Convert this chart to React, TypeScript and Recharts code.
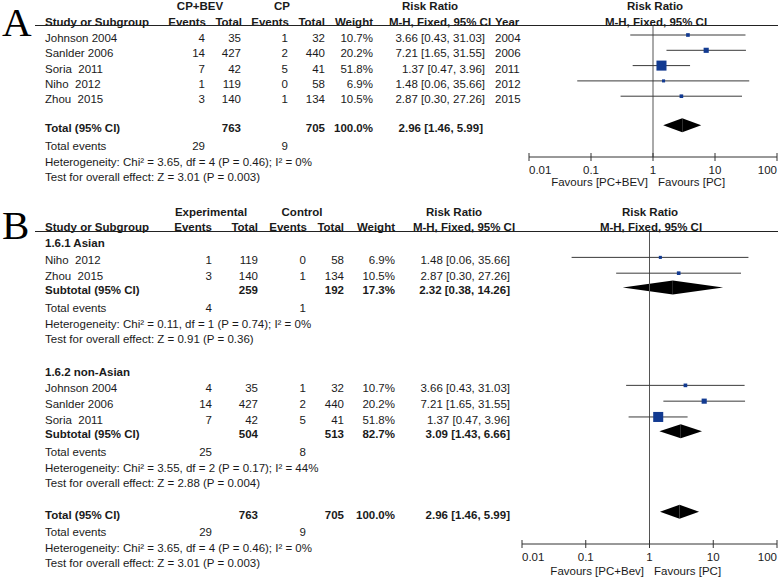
import React from "react";
import {
  ComposedChart,
  XAxis,
  YAxis,
  Scatter,
  ReferenceLine,
  ReferenceArea,
} from "recharts";

// ---- data ----
const studyNames = ["Johnson 2004", "Sanlder 2006", "Soria  2011", "Niho  2012", "Zhou  2015"];
const studyYears = [2004, 2006, 2011, 2012, 2015];
const expEvents = [4, 14, 7, 1, 3];
const expTotals = [35, 427, 42, 119, 140];
const ctlEvents = [1, 2, 5, 0, 1];
const ctlTotals = [32, 440, 41, 58, 134];
const weights = [10.7, 20.2, 51.8, 6.9, 10.5];
const riskRatios = [3.66, 7.21, 1.37, 1.48, 2.87];
const ciLow = [0.43, 1.65, 0.47, 0.06, 0.3];
const ciHigh = [31.03, 31.55, 3.96, 35.66, 27.26];

// subgroups (B) + overall
const asianIdx = [3, 4];
const nonAsianIdx = [0, 1, 2];
const pooledLabels = ["1.6.1 Asian", "1.6.2 non-Asian", "Total"];
const pooledExpTotal = [259, 504, 763];
const pooledCtlTotal = [192, 513, 705];
const pooledWeight = [17.3, 82.7, 100.0];
const pooledRR = [2.32, 3.09, 2.96];
const pooledLow = [0.38, 1.43, 1.46];
const pooledHigh = [14.26, 6.66, 5.99];
const pooledExpEvents = [4, 25, 29];
const pooledCtlEvents = [1, 8, 9];
const hetChi = [0.11, 3.55, 3.65];
const hetDf = [1, 2, 4];
const hetP = ["0.74", "0.17", "0.46"];
const hetI2 = [0, 44, 0];
const zValue = ["0.91", "2.88", "3.01"];
const zP = ["0.36", "0.004", "0.003"];

const axisTicks = [0.01, 0.1, 1, 10, 100];
const tickLabels = ["0.01", "0.1", "1", "10", "100"];

// ---- helpers ----
const FONT = '"Liberation Sans", Arial, sans-serif';
const INK = "#1a1a1a";

const rrText = (rr: number, lo: number, hi: number) =>
  `${rr.toFixed(2)} [${lo.toFixed(2)}, ${hi.toFixed(2)}]`;
const hetText = (g: number) =>
  `Heterogeneity: Chi² = ${hetChi[g].toFixed(2)}, df = ${hetDf[g]} (P = ${hetP[g]}); I² = ${hetI2[g]}%`;
const testText = (g: number) => `Test for overall effect: Z = ${zValue[g]} (P = ${zP[g]})`;

function Txt({ x, y, a = "l", b = false, children }: any) {
  const tx = a === "r" ? "-100%" : a === "c" ? "-50%" : "0";
  return (
    <div
      style={{
        position: "absolute",
        left: x,
        top: y - 7,
        transform: `translateX(${tx})`,
        whiteSpace: "pre",
        fontFamily: FONT,
        fontSize: 11.5,
        lineHeight: "14px",
        fontWeight: b ? 700 : 400,
        color: INK,
      }}
    >
      {children}
    </div>
  );
}

function HLine({ x, y, w }: any) {
  return <div style={{ position: "absolute", left: x, top: y, width: w, height: 1, background: "#222" }} />;
}

function Letter({ x, y, children }: any) {
  return (
    <div
      style={{
        position: "absolute",
        left: x,
        top: y,
        fontFamily: '"Liberation Serif", "Times New Roman", serif',
        fontSize: 41,
        lineHeight: "41px",
        color: "#000",
      }}
    >
      {children}
    </div>
  );
}

function LogTick(props: any) {
  const { x, y, payload } = props;
  const v = payload.value;
  const i = axisTicks.indexOf(v);
  const anchor = i === 0 ? "start" : i === axisTicks.length - 1 ? "end" : "middle";
  return (
    <g>
      <line x1={x} x2={x} y1={y - 4} y2={y + 4} stroke="#333" />
      <text x={x} y={y + 17} textAnchor={anchor} fontFamily={FONT} fontSize={11.5} fill={INK}>
        {tickLabels[i]}
      </text>
    </g>
  );
}

function Square(props: any) {
  const { cx, cy, payload } = props;
  const s = 2 + 0.155 * payload.w;
  return <rect x={cx - s / 2} y={cy - s / 2} width={s} height={s} fill="#123a91" />;
}

const leftHalf = (p: any) => {
  const { x, y, width, height } = p;
  return <polygon points={`${x},${y + height / 2} ${x + width},${y} ${x + width},${y + height}`} fill="#000" />;
};
const rightHalf = (p: any) => {
  const { x, y, width, height } = p;
  return <polygon points={`${x},${y} ${x + width},${y + height / 2} ${x},${y + height}`} fill="#000" />;
};

type Panel = {
  row0: number;
  pitch: number;
  plotTop: number;
  plotBottom: number;
  plotLeft: number;
  plotRight: number;
};

function Forest({ p, studies, diamonds }: { p: Panel; studies: any[]; diamonds: any[] }) {
  const mt = 6, ml = 20, mr = 10, axisH = 30;
  const plotW = p.plotRight - p.plotLeft;
  const plotH = p.plotBottom - p.plotTop;
  const domain = [(p.plotTop - p.row0) / p.pitch, (p.plotBottom - p.row0) / p.pitch];
  const half = 7 / p.pitch;
  return (
    <div style={{ position: "absolute", left: p.plotLeft - ml, top: p.plotTop - mt }}>
      <ComposedChart
        width={ml + plotW + mr}
        height={mt + plotH + axisH}
        margin={{ top: mt, left: ml, right: mr, bottom: 0 }}
      >
        <XAxis
          type="number"
          dataKey="x"
          scale="log"
          domain={[0.01, 100]}
          ticks={axisTicks}
          interval={0}
          allowDataOverflow
          tickSize={0}
          tickMargin={0}
          tickLine={false}
          tick={<LogTick />}
          height={axisH}
          stroke="#333"
        />
        <YAxis type="number" dataKey="y" domain={domain} reversed hide allowDataOverflow />
        <ReferenceLine x={1} stroke="#555" ifOverflow="visible" />
        {studies.map((s, i) => (
          <ReferenceLine
            key={"ci" + i}
            segment={[{ x: s.lo, y: s.y }, { x: s.hi, y: s.y }]}
            stroke="#3a3a3a"
            ifOverflow="visible"
          />
        ))}
        {diamonds.map((d, i) => (
          <ReferenceArea
            key={"dl" + i}
            x1={d.lo}
            x2={d.x}
            y1={d.y - half}
            y2={d.y + half}
            shape={leftHalf}
            ifOverflow="visible"
          />
        ))}
        {diamonds.map((d, i) => (
          <ReferenceArea
            key={"dr" + i}
            x1={d.x}
            x2={d.hi}
            y1={d.y - half}
            y2={d.y + half}
            shape={rightHalf}
            ifOverflow="visible"
          />
        ))}
        <Scatter data={studies} isAnimationActive={false} shape={<Square />} />
      </ComposedChart>
    </div>
  );
}

// ---- layout ----
const PA: Panel = { row0: 35, pitch: 15.3, plotTop: 26, plotBottom: 157, plotLeft: 529, plotRight: 777 };
const PB: Panel = { row0: 240, pitch: 15.8, plotTop: 232, plotBottom: 544, plotLeft: 522, plotRight: 777 };
const TEXT_SHIFT = 3;
const ty = (p: Panel, slot: number) => p.row0 + slot * p.pitch + TEXT_SHIFT;

const colA = { ev1: 205, tot1: 241, ev2: 288, tot2: 325, w: 373, rr: 485, year: 495 };
const colB = { ev1: 212, tot1: 258, ev2: 306, tot2: 344, w: 395, rr: 510 };

const slotsA = { studies: [0, 1, 2, 3, 4], total: 5.9, te: 7.06, het: 8.1, test: 9.1 };
const groupsB = [
  { idx: asianIdx, head: 0, studies: [1.1, 2.1], sub: 3.0, te: 4.1, het: 5.1, test: 6.1 },
  { idx: nonAsianIdx, head: 8.15, studies: [9.2, 10.2, 11.2], sub: 12.1, te: 13.2, het: 14.25, test: 15.2 },
];
const totalB = { sub: 17.2, te: 18.3, het: 19.3, test: 20.25 };

function PanelA() {
  const studies = studyNames.map((_, i) => ({ x: riskRatios[i], lo: ciLow[i], hi: ciHigh[i], w: weights[i], y: slotsA.studies[i] }));
  const diamonds = [{ x: pooledRR[2], lo: pooledLow[2], hi: pooledHigh[2], y: slotsA.total }];
  const c = colA;
  return (
    <>
      <Letter x={2} y={2}>A</Letter>
      <Txt x={200} y={6} a="c" b>CP+BEV</Txt>
      <Txt x={282} y={6} a="c" b>CP</Txt>
      <Txt x={430} y={6} a="c" b>Risk Ratio</Txt>
      <Txt x={655} y={6} a="c" b>Risk Ratio</Txt>
      <Txt x={45} y={21.5} b>Study or Subgroup</Txt>
      <Txt x={206} y={21.5} a="r" b>Events</Txt>
      <Txt x={242} y={21.5} a="r" b>Total</Txt>
      <Txt x={289} y={21.5} a="r" b>Events</Txt>
      <Txt x={325} y={21.5} a="r" b>Total</Txt>
      <Txt x={373} y={21.5} a="r" b>Weight</Txt>
      <Txt x={440} y={21.5} a="c" b>M-H, Fixed, 95% CI</Txt>
      <Txt x={495} y={21.5} b>Year</Txt>
      <Txt x={656} y={21.5} a="c" b>M-H, Fixed, 95% CI</Txt>
      <HLine x={35} y={25} w={743} />
      {studyNames.map((n, i) => {
        const y = ty(PA, slotsA.studies[i]);
        return (
          <React.Fragment key={n}>
            <Txt x={45} y={y}>{n}</Txt>
            <Txt x={c.ev1} y={y} a="r">{expEvents[i]}</Txt>
            <Txt x={c.tot1} y={y} a="r">{expTotals[i]}</Txt>
            <Txt x={c.ev2} y={y} a="r">{ctlEvents[i]}</Txt>
            <Txt x={c.tot2} y={y} a="r">{ctlTotals[i]}</Txt>
            <Txt x={c.w} y={y} a="r">{weights[i].toFixed(1)}%</Txt>
            <Txt x={c.rr} y={y} a="r">{rrText(riskRatios[i], ciLow[i], ciHigh[i])}</Txt>
            <Txt x={c.year} y={y}>{studyYears[i]}</Txt>
          </React.Fragment>
        );
      })}
      <Txt x={45} y={ty(PA, slotsA.total)} b>Total (95% CI)</Txt>
      <Txt x={c.tot1} y={ty(PA, slotsA.total)} a="r" b>{pooledExpTotal[2]}</Txt>
      <Txt x={c.tot2} y={ty(PA, slotsA.total)} a="r" b>{pooledCtlTotal[2]}</Txt>
      <Txt x={c.w} y={ty(PA, slotsA.total)} a="r" b>{pooledWeight[2].toFixed(1)}%</Txt>
      <Txt x={c.rr - 2} y={ty(PA, slotsA.total)} a="r" b>{rrText(pooledRR[2], pooledLow[2], pooledHigh[2])}</Txt>
      <Txt x={45} y={ty(PA, slotsA.te)}>Total events</Txt>
      <Txt x={c.ev1} y={ty(PA, slotsA.te)} a="r">{pooledExpEvents[2]}</Txt>
      <Txt x={c.ev2} y={ty(PA, slotsA.te)} a="r">{pooledCtlEvents[2]}</Txt>
      <Txt x={45} y={ty(PA, slotsA.het)}>{hetText(2)}</Txt>
      <Txt x={45} y={ty(PA, slotsA.test)}>{testText(2)}</Txt>
      <Forest p={PA} studies={studies} diamonds={diamonds} />
      <Txt x={648} y={182} a="r">Favours [PC+BEV]</Txt>
      <Txt x={658} y={182}>Favours [PC]</Txt>
    </>
  );
}

function PanelB() {
  const c = colB;
  const studies: any[] = [];
  const diamonds: any[] = [];
  groupsB.forEach((g, gi) => {
    g.idx.forEach((si, k) =>
      studies.push({ x: riskRatios[si], lo: ciLow[si], hi: ciHigh[si], w: weights[si], y: g.studies[k] })
    );
    diamonds.push({ x: pooledRR[gi], lo: pooledLow[gi], hi: pooledHigh[gi], y: g.sub });
  });
  diamonds.push({ x: pooledRR[2], lo: pooledLow[2], hi: pooledHigh[2], y: totalB.sub });

  const pooledRows = (gi: number, s: { sub: number; te: number; het: number; test: number }, label: string) => (
    <>
      <Txt x={45} y={ty(PB, s.sub)} b>{label}</Txt>
      <Txt x={c.tot1} y={ty(PB, s.sub)} a="r" b>{pooledExpTotal[gi]}</Txt>
      <Txt x={c.tot2} y={ty(PB, s.sub)} a="r" b>{pooledCtlTotal[gi]}</Txt>
      <Txt x={c.w} y={ty(PB, s.sub)} a="r" b>{pooledWeight[gi].toFixed(1)}%</Txt>
      <Txt x={c.rr} y={ty(PB, s.sub)} a="r" b>{rrText(pooledRR[gi], pooledLow[gi], pooledHigh[gi])}</Txt>
      <Txt x={45} y={ty(PB, s.te)}>Total events</Txt>
      <Txt x={c.ev1} y={ty(PB, s.te)} a="r">{pooledExpEvents[gi]}</Txt>
      <Txt x={c.ev2} y={ty(PB, s.te)} a="r">{pooledCtlEvents[gi]}</Txt>
      <Txt x={45} y={ty(PB, s.het)}>{hetText(gi)}</Txt>
      <Txt x={45} y={ty(PB, s.test)}>{testText(gi)}</Txt>
    </>
  );

  return (
    <>
      <Letter x={2} y={205}>B</Letter>
      <Txt x={211} y={212} a="c" b>Experimental</Txt>
      <Txt x={302} y={212} a="c" b>Control</Txt>
      <Txt x={454} y={212} a="c" b>Risk Ratio</Txt>
      <Txt x={650} y={212} a="c" b>Risk Ratio</Txt>
      <Txt x={45} y={227} b>Study or Subgroup</Txt>
      <Txt x={212} y={227} a="r" b>Events</Txt>
      <Txt x={258} y={227} a="r" b>Total</Txt>
      <Txt x={307} y={227} a="r" b>Events</Txt>
      <Txt x={344} y={227} a="r" b>Total</Txt>
      <Txt x={395} y={227} a="r" b>Weight</Txt>
      <Txt x={464} y={227} a="c" b>M-H, Fixed, 95% CI</Txt>
      <Txt x={651} y={227} a="c" b>M-H, Fixed, 95% CI</Txt>
      <HLine x={35} y={231} w={743} />
      {groupsB.map((g, gi) => (
        <React.Fragment key={gi}>
          <Txt x={45} y={ty(PB, g.head)} b>{pooledLabels[gi]}</Txt>
          {g.idx.map((si, k) => {
            const y = ty(PB, g.studies[k]);
            return (
              <React.Fragment key={si}>
                <Txt x={45} y={y}>{studyNames[si]}</Txt>
                <Txt x={c.ev1} y={y} a="r">{expEvents[si]}</Txt>
                <Txt x={c.tot1} y={y} a="r">{expTotals[si]}</Txt>
                <Txt x={c.ev2} y={y} a="r">{ctlEvents[si]}</Txt>
                <Txt x={c.tot2} y={y} a="r">{ctlTotals[si]}</Txt>
                <Txt x={c.w} y={y} a="r">{weights[si].toFixed(1)}%</Txt>
                <Txt x={c.rr} y={y} a="r">{rrText(riskRatios[si], ciLow[si], ciHigh[si])}</Txt>
              </React.Fragment>
            );
          })}
          {pooledRows(gi, g, "Subtotal (95% CI)")}
        </React.Fragment>
      ))}
      {pooledRows(2, totalB, "Total (95% CI)")}
      <Forest p={PB} studies={studies} diamonds={diamonds} />
      <Txt x={644} y={571} a="r">Favours [PC+Bev]</Txt>
      <Txt x={654} y={571}>Favours [PC]</Txt>
    </>
  );
}

export default function App() {
  return (
    <div
      style={{
        position: "absolute",
        left: 0,
        top: 0,
        width: 780,
        height: 579,
        background: "#fff",
        overflow: "hidden",
      }}
    >
      <PanelA />
      <PanelB />
    </div>
  );
}
